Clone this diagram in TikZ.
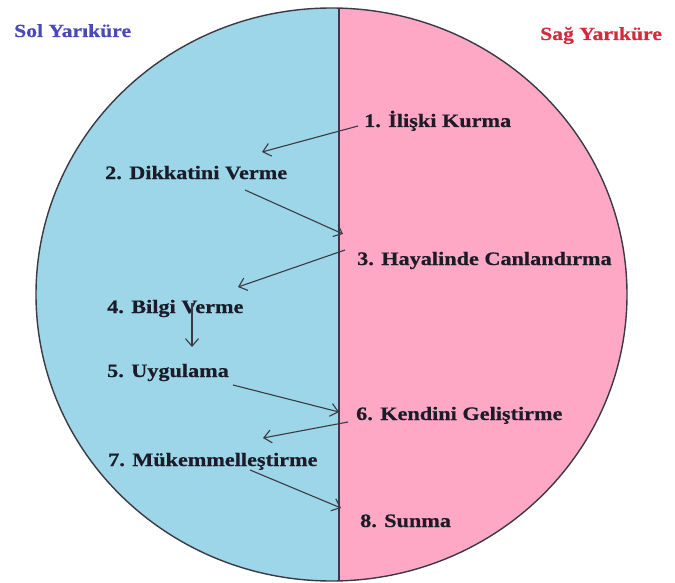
\documentclass[tikz,border=0pt]{standalone}
\usepackage{fontspec}
\setmainfont{Liberation Serif}[FakeStretch=1.17, BoldFeatures={FakeBold=0.6}]
\usetikzlibrary{arrows.meta}
\definecolor{leftblue}{HTML}{9DD6E8}
\definecolor{rightpink}{HTML}{FFA8C5}
\definecolor{edgegray}{HTML}{3A3A44}
\definecolor{titleblue}{HTML}{4A4AB4}
\definecolor{titlered}{HTML}{D42A3C}
\definecolor{txt}{HTML}{1C1C28}
\tikzset{
  steptext/.style={anchor=base west, inner sep=0pt, text=txt, font=\fontsize{19}{19}\selectfont\bfseries},
  titletext/.style={anchor=base west, inner sep=0pt, font=\fontsize{18.5}{18.5}\selectfont\bfseries},
  arr/.style={draw=edgegray, line width=1.1pt, -{Straight Barb[length=7.5pt,width=13pt,line width=1.1pt]}},
}
\begin{document}
\begin{tikzpicture}[x=1pt,y=-1pt]
\useasboundingbox (0,0) rectangle (675,583);
\begin{scope}
  \clip (331.5,294.5) ellipse [x radius=295.5pt, y radius=286.5pt];
  \fill[leftblue] (0,0) rectangle (338.5,583);
  \fill[rightpink] (338.5,0) rectangle (675,583);
  \draw[edgegray, line width=2pt] (338.5,0) -- (338.5,583);
\end{scope}
\draw[edgegray, line width=1.4pt] (331.5,294.5) ellipse [x radius=295.5pt, y radius=286.5pt];

\node[titletext, text=titleblue] (sol) at (14,37) {Sol Yarıküre};
\node[titletext, text=titlered] (sag) at (540,40) {Sağ Yarıküre};

\node[steptext] (n1) at (364,127) {1. İlişki Kurma};
\node[steptext] (n2) at (105,179) {2. Dikkatini Verme};
\node[steptext] (n3) at (357,265) {3. Hayalinde Canlandırma};
\node[steptext] (n4) at (107,313) {4. Bilgi Verme};
\node[steptext] (n5) at (107,377) {5. Uygulama};
\node[steptext] (n6) at (356,420) {6. Kendini Geliştirme};
\node[steptext] (n7) at (108,466) {7. Mükemmelleştirme};
\node[steptext] (n8) at (360,527) {8. Sunma};

\coordinate (s1) at (358,126); \coordinate (h1) at (262,152);
\coordinate (s2) at (245,190); \coordinate (h2) at (343,234);
\coordinate (s3) at (345,250); \coordinate (h3) at (238,287);
\coordinate (s4) at (192,303); \coordinate (h4) at (192,347);
\coordinate (s5) at (233,385); \coordinate (h5) at (339,412);
\coordinate (s6) at (348,422); \coordinate (h6) at (263,438);
\coordinate (s7) at (250,470); \coordinate (h7) at (341,508);

\draw[arr] (s1) -- (h1);
\draw[arr] (s2) -- (h2);
\draw[arr] (s3) -- (h3);
\draw[arr] (s4) -- (h4);
\draw[arr] (s5) -- (h5);
\draw[arr] (s6) -- (h6);
\draw[arr] (s7) -- (h7);
\end{tikzpicture}
\end{document}
